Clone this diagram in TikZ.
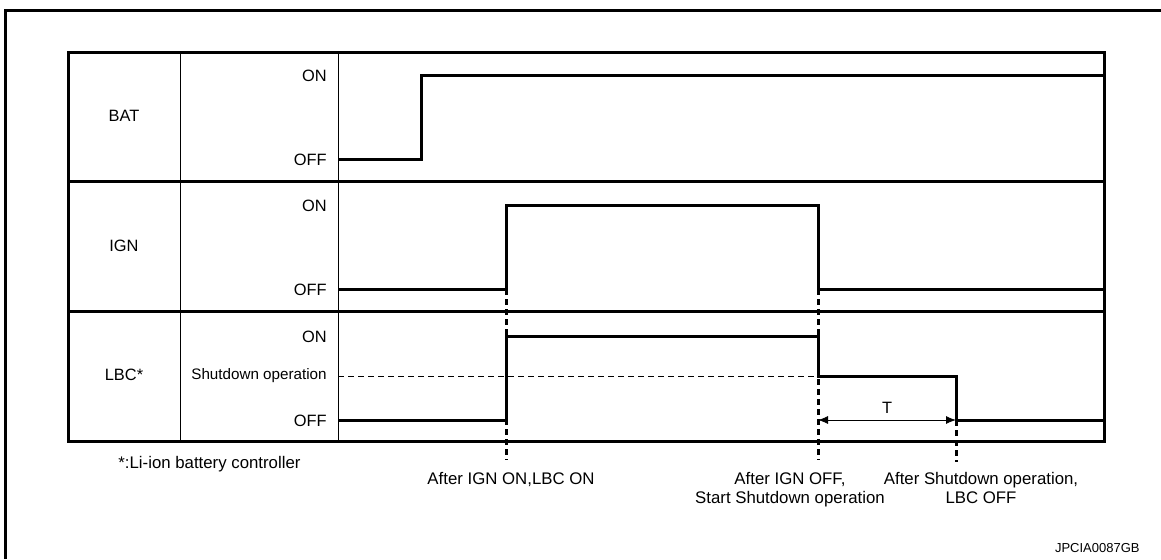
\documentclass[tikz,border=0pt]{standalone}
\usepackage{fontspec}
\setmainfont{Liberation Sans}
\usetikzlibrary{arrows.meta, positioning}

\begin{document}
\begin{tikzpicture}[x=0.5pt, y=-0.5pt,
      signal/.style={line width=1.5pt},
      rule/.style={line width=1.5pt},
      thin rule/.style={line width=0.5pt},
      marker/.style={line width=1.5pt, dash pattern=on 3pt off 2pt},
      sdlevel/.style={line width=0.5pt, dash pattern=on 3pt off 2pt},
      level/.style={anchor=east, inner sep=0pt, font=\fontsize{8.2}{10}\selectfont},
      signame/.style={inner sep=0pt, font=\fontsize{8.2}{10}\selectfont},
      event/.style={align=center, anchor=north, inner sep=0pt, font=\fontsize{8.4}{9.6}\selectfont},
      span/.style={{Latex[length=5pt,width=4pt]}-{Latex[length=5pt,width=4pt]}, line width=0.4pt}
    ]
    \useasboundingbox (0,0) rectangle (1161,559);
    \draw[rule] (5,559) -- (5,10) -- (1161,10);

    % table
    \draw[rule] (68,52) rectangle (1104,441);
    \draw[rule] (68,181) -- (1104,181);
    \draw[rule] (68,311) -- (1104,311);
    \draw[thin rule] (180,52) -- (180,441);
    \draw[thin rule] (338,52) -- (338,441);

    \node[signame] (bat) at (124,116) {BAT};
    \node[signame] (ign) at (124,246) {IGN};
    \node[signame] (lbc) at (124,375) {LBC*};

    \node[level] (baton)  at (327,76)  {ON};
    \node[level] (batoff) at (327,160) {OFF};
    \node[level] (ignon)  at (327,206) {ON};
    \node[level] (ignoff) at (327,290) {OFF};
    \node[level] (lbcon)  at (327,337) {ON};
    \node[level, font=\fontsize{7.6}{9}\selectfont] (lbcsd) at (327,376) {Shutdown operation};
    \node[level] (lbcoff) at (327,421) {OFF};

    % signals
    \draw[signal] (338,159) -- (421,159) -- (421,75) -- (1104,75);
    \draw[signal] (338,289) -- (506,289) -- (506,205) -- (818,205) -- (818,289) -- (1104,289);
    \draw[sdlevel] (338,376) -- (818,376);
    \draw[signal] (338,420) -- (506,420) -- (506,336) -- (818,336) -- (818,376) -- (956,376) -- (956,420) -- (1104,420);

    % events
    \coordinate (on top)  at (506,289);
    \coordinate (on bot)  at (506,460);
    \coordinate (off top) at (818,289);
    \coordinate (off bot) at (818,460);
    \coordinate (sd top)  at (956,420);
    \coordinate (sd bot)  at (956,462);
    \draw[marker] (on top)  -- (on bot);
    \draw[marker] (off top) -- (off bot);
    \draw[marker] (sd top)  -- (sd bot);

    \coordinate (t start) at (818,420);
    \draw[span] (t start) -- node[above=3pt, inner sep=0pt, font=\fontsize{8.2}{10}\selectfont] (tlabel) {T} (sd top);

    \node[event] (ev on)  at (511,472) {After IGN ON,LBC ON};
    \node[event] (ev off) at (790,472) {After IGN OFF,\\Start Shutdown operation};
    \node[event] (ev sd)  at (981,472) {After Shutdown operation,\\LBC OFF};

    \node[anchor=west, inner sep=0pt, font=\fontsize{8.4}{10}\selectfont] (note) at (118,464) {*:Li-ion battery controller};
    \node[anchor=east, inner sep=0pt, font=\fontsize{6.5}{8}\selectfont] (code) at (1140,548) {JPCIA0087GB};
  \end{tikzpicture}
\end{document}
